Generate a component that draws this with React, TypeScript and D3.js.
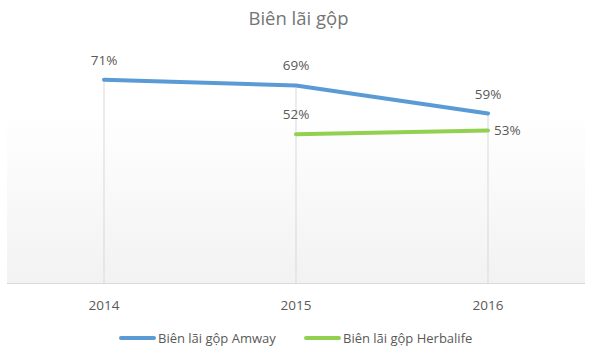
import React from "react";
import * as d3 from "d3";

const categories = ["2014", "2015", "2016"];
const amway: (number | null)[] = [0.71, 0.69, 0.592];
const herbalife: (number | null)[] = [null, 0.52, 0.533];
const seriesNames = ["Biên lãi gộp Amway", "Biên lãi gộp Herbalife"];
const title = "Biên lãi gộp";

const W = 597;
const H = 355;
const FONT = "'Open Sans', 'Noto Sans', sans-serif";

export default function App() {
  const x = d3.scaleBand<string>().domain(categories).range([8, 584]);
  const y = d3.scaleLinear().domain([0, 0.8]).range([283, 54]);
  const cx = (c: string) => (x(c) as number) + x.bandwidth() / 2;
  const fmt = d3.format(".0%");

  const series = [
    { name: seriesNames[0], values: amway, color: "#5b9bd5" },
    { name: seriesNames[1], values: herbalife, color: "#92d050" },
  ];

  const line = d3
    .line<{ c: string; v: number | null }>()
    .defined((d) => d.v != null)
    .x((d) => cx(d.c))
    .y((d) => y(d.v as number));

  return (
    <svg
      width={W}
      height={H}
      style={{ position: "absolute", left: 0, top: 0, fontFamily: FONT }}
    >
      <defs>
        <linearGradient id="bg" x1="0" y1="0" x2="0" y2="1">
          <stop offset="0" stopColor="#ffffff" />
          <stop offset="0.3" stopColor="#ffffff" />
          <stop offset="1" stopColor="#f2f2f2" />
        </linearGradient>
      </defs>
      <rect x={0} y={0} width={W} height={H} fill="#fff" />
      <rect x={7} y={40} width={578} height={243} fill="url(#bg)" />
      <text
        x={W / 2}
        y={25}
        textAnchor="middle"
        fontSize={18.5}
        fill="#757575"
      >
        {title}
      </text>
      {categories.map((c) => (
        <line
          key={c}
          x1={cx(c)}
          x2={cx(c)}
          y1={y(0)}
          y2={y(d3.max(series, (s) => s.values[categories.indexOf(c)] ?? 0) as number)}
          stroke="#d9d9d9"
          strokeWidth={1}
        />
      ))}
      <line x1={7} x2={585} y1={283.5} y2={283.5} stroke="#d9d9d9" strokeWidth={1} />
      {categories.map((c) => (
        <text
          key={c}
          x={cx(c)}
          y={310}
          textAnchor="middle"
          fontSize={13.5}
          fill="#595959"
        >
          {c}
        </text>
      ))}
      {series.map((s) => (
        <path
          key={s.name}
          d={line(categories.map((c, i) => ({ c, v: s.values[i] }))) || ""}
          fill="none"
          stroke={s.color}
          strokeWidth={4}
          strokeLinecap="round"
          strokeLinejoin="round"
        />
      ))}
      {series.map((s, si) =>
        categories.map((c, i) => {
          const v = s.values[i];
          if (v == null) return null;
          const right = si === 1 && i === categories.length - 1;
          return (
            <text
              key={s.name + c}
              x={right ? cx(c) + 6 : cx(c)}
              y={right ? y(v) + 5 : y(v) - 15}
              textAnchor={right ? "start" : "middle"}
              fontSize={13.5}
              fill="#595959"
            >
              {fmt(v)}
            </text>
          );
        })
      )}
      {series.map((s, i) => {
        const lx = i === 0 ? 121 : 306;
        return (
          <g key={s.name}>
            <line
              x1={lx}
              x2={lx + 33}
              y1={338}
              y2={338}
              stroke={s.color}
              strokeWidth={4}
              strokeLinecap="round"
            />
            <text x={lx + 37} y={342.5} fontSize={13} fill="#595959">
              {s.name}
            </text>
          </g>
        );
      })}
    </svg>
  );
}
